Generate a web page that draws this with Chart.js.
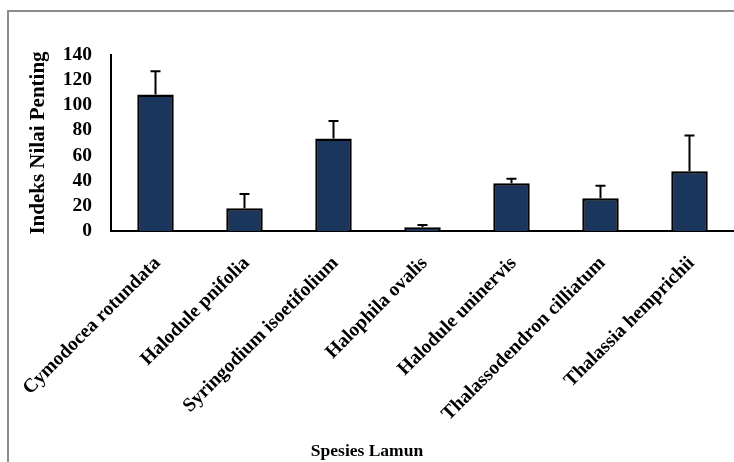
<!DOCTYPE html>
<html>
<head>
<meta charset="utf-8">
<script src="https://cdn.jsdelivr.net/npm/chart.js@4"></script>
<style>
  html, body { margin: 0; padding: 0; background: #fff; }
  #wrap { position: relative; width: 734px; height: 462px; }
  #frame { position: absolute; left: 7px; top: 10px; right: 0; bottom: 0;
           border-left: 2px solid #8c8c8c; border-top: 2px solid #8c8c8c; }
  canvas { position: absolute; left: 0; top: 0; }
</style>
</head>
<body>
<div id="wrap">
  <div id="frame"></div>
  <canvas id="chart" width="734" height="462"></canvas>
</div>
<script>
const species = ["Cymodocea rotundata", "Halodule pnifolia", "Syringodium isoetifolium", "Halophila ovalis",
    "Halodule uninervis", "Thalassodendron cilliatum", "Thalassia hemprichii"];
const inpValues = [108.5, 18, 73.5, 3, 38, 26, 47.5];
const inpErrors = [18.5, 11.5, 14, 1.8, 3.5, 10, 28.5];
const yTicks = [0, 20, 40, 60, 80, 100, 120, 140];

const serif = "'Liberation Serif', 'Times New Roman', serif";

// error bars drawn on top of the bars, upper side only
const errorBars = {
    id: "errorBars",
    afterDatasetsDraw(chart) {
        const ctx = chart.ctx;
        const meta = chart.getDatasetMeta(0);
        const y = chart.scales.y;
        ctx.save();
        ctx.strokeStyle = "#000";
        ctx.lineWidth = 2;
        meta.data.forEach((bar, i) => {
            const top = y.getPixelForValue(inpValues[i] + inpErrors[i]);
            const base = y.getPixelForValue(inpValues[i]);
            ctx.beginPath();
            ctx.moveTo(bar.x, base);
            ctx.lineTo(bar.x, top);
            ctx.moveTo(bar.x - 5, top);
            ctx.lineTo(bar.x + 5, top);
            ctx.stroke();
        });
        ctx.restore();
    }
};

new Chart(document.getElementById("chart"), {
    type: "bar",
    data: {
        labels: species,
        datasets: [{
            data: inpValues,
            backgroundColor: "#1b365d",
            borderColor: "#000",
            borderWidth: 2.5,
            categoryPercentage: 1,
            barPercentage: 0.41
        }]
    },
    options: {
        responsive: false,
        animation: false,
        layout: { padding: { top: 55, left: 0, right: 0, bottom: 0 } },
        plugins: {
            legend: { display: false },
            tooltip: { enabled: false },
            title: {
                display: true,
                position: "bottom",
                text: "Spesies Lamun",
                color: "#000",
                font: { family: serif, size: 17.5, weight: "bold" },
                padding: { top: 0, bottom: 0 }
            }
        },
        scales: {
            x: {
                grid: { display: false },
                border: { display: true, color: "#000", width: 2 },
                ticks: {
                    color: "#000",
                    font: { family: serif, size: 19.5, weight: "bold" },
                    minRotation: 45,
                    maxRotation: 45,
                    autoSkip: false,
                    labelOffset: 2,
                    padding: 13
                },
                afterFit(scale) { scale.height = 210; }
            },
            y: {
                min: 0,
                max: 140,
                grid: { display: false },
                border: { display: true, color: "#000", width: 2 },
                afterBuildTicks(scale) { scale.ticks = yTicks.map(v => ({ value: v })); },
                ticks: {
                    color: "#000",
                    padding: 11,
                    autoSkip: false,
                    font: { family: serif, size: 19.5, weight: "bold" }
                },
                title: {
                    display: true,
                    text: "Indeks Nilai Penting",
                    color: "#000",
                    font: { family: serif, size: 21, weight: "bold" },
                    padding: { top: 26, bottom: 0 }
                },
                afterFit(scale) { scale.width = 111; }
            }
        }
    },
    plugins: [errorBars]
});
</script>
</body>
</html>
